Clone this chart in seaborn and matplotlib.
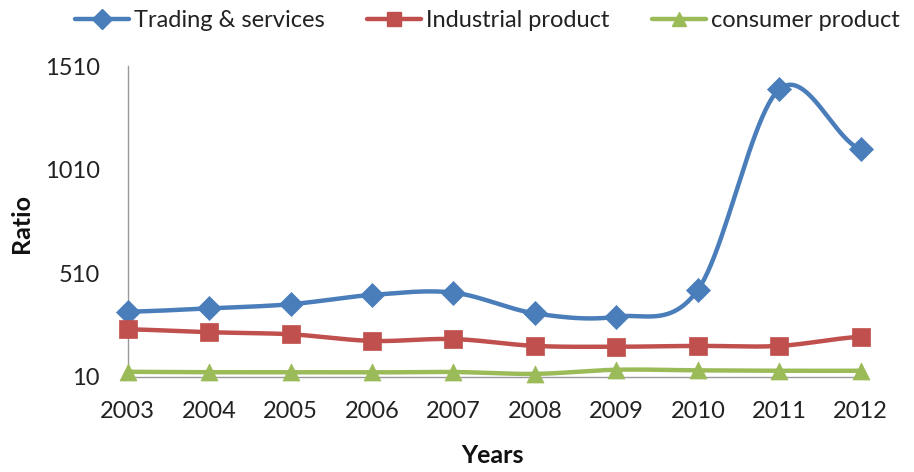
import numpy as np
import pandas as pd
import seaborn as sns
import matplotlib.pyplot as plt
from matplotlib.lines import Line2D

years = ["2003", "2004", "2005", "2006", "2007", "2008", "2009", "2010", "2011", "2012"]
trading = [325, 341, 361, 406, 417, 317, 301, 430, 1398, 1108]
industrial = [240, 226, 216, 184, 193, 160, 156, 160, 160, 204]
consumer = [35, 33, 33, 32, 34, 25, 45, 42, 40, 40]
y_ticks = [10, 510, 1010, 1510]

series = [
    ("Trading & services", trading, "#4A7EBB", "D"),
    ("Industrial product", industrial, "#C0504D", "s"),
    ("consumer product", consumer, "#9BBB59", "^"),
]


def smooth(vals, steps=24):
    """courbe lissee type Catmull-Rom (comme les lignes lissees d'Excel)"""
    v = np.asarray(vals, dtype=float)
    p = np.concatenate([[v[0]], v, [v[-1]]])
    xs, ys = [], []
    for i in range(len(v) - 1):
        p0, p1, p2, p3 = p[i], p[i + 1], p[i + 2], p[i + 3]
        t = np.linspace(0, 1, steps, endpoint=False)
        y = 0.5 * (2 * p1 + (-p0 + p2) * t + (2 * p0 - 5 * p1 + 4 * p2 - p3) * t ** 2
                   + (-p0 + 3 * p1 - 3 * p2 + p3) * t ** 3)
        xs.extend(i + t)
        ys.extend(y)
    xs.append(len(v) - 1)
    ys.append(v[-1])
    return np.array(xs), np.array(ys)


sns.set_theme(style="white")
plt.rcParams["font.family"] = ["Lato", "DejaVu Sans"]

fig = plt.figure(figsize=(9.14, 4.72), dpi=100)
ax = fig.add_axes([0.1397, 0.2013, 0.8020, 0.6587])

handles = []
for name, vals, color, marker in series:
    sx, sy = smooth(vals)
    sns.lineplot(x=sx, y=sy, ax=ax, color=color, linewidth=3.2, sort=False, clip_on=False)
    df = pd.DataFrame({"x": np.arange(len(years)), "y": vals})
    sns.scatterplot(data=df, x="x", y="y", ax=ax, color=color, marker=marker,
                    s=150, edgecolor=color, linewidth=0.5, clip_on=False, zorder=5)
    handles.append(Line2D([], [], color=color, lw=3.2, marker=marker, markersize=10,
                          markeredgecolor=color))

ax.set_xlim(0, len(years) - 1)
ax.set_ylim(10, 1510)
ax.set_xticks(range(len(years)))
ax.set_xticklabels(years)
ax.set_yticks(y_ticks)
ax.tick_params(axis="both", length=0, labelsize=17, colors="#222222")
ax.tick_params(axis="y", pad=20)
ax.tick_params(axis="x", pad=17)

for s in ["top", "right"]:
    ax.spines[s].set_visible(False)
for s in ["left", "bottom"]:
    ax.spines[s].set_color("#9a9a9a")
    ax.spines[s].set_linewidth(1.0)

ax.set_xlabel("")
ax.set_ylabel("")
fig.text(0.024, 0.527, "Ratio", rotation=90, ha="center", va="center",
         fontsize=18, fontweight="bold", color="#111111")
fig.text(0.539, 0.035, "Years", ha="center", va="center",
         fontsize=18, fontweight="bold", color="#111111")

fig.legend(handles=handles, labels=[s[0] for s in series], loc="center",
           bbox_to_anchor=(0.533, 0.957), ncol=3, frameon=False, fontsize=17,
           handlelength=2.3, handletextpad=0.2, columnspacing=1.8,
           labelcolor="#222222", borderaxespad=0, borderpad=0)

fig.savefig("out.png", dpi=100)
